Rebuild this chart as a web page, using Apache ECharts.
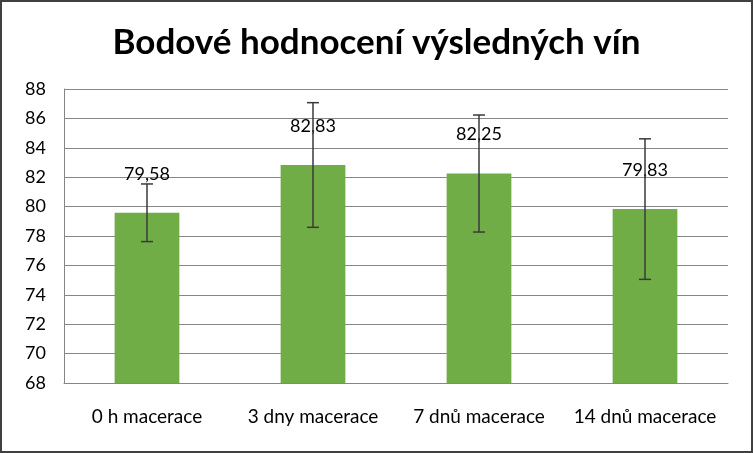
<!DOCTYPE html>
<html lang="cs">
<head>
    <meta charset="UTF-8">
    <title>Bodové hodnocení výsledných vín</title>
    <script src="https://cdn.jsdelivr.net/npm/echarts@6/dist/echarts.min.js"></script>
    <style>
        html, body { margin: 0; padding: 0; background: #fff; }
        #chart { width: 753px; height: 453px; box-sizing: border-box; border: 2px solid #404040; }
    </style>
</head>
<body>
<div id="chart"></div>
<script>
    // data
    const categories = ['0 h macerace', '3 dny macerace', '7 dnů macerace', '14 dnů macerace'];
    const scores = [79.58, 82.83, 82.25, 79.83];
    const errors = [1.96, 4.24, 3.98, 4.78];
    const yTicks = { min: 68, max: 88, step: 2 };

    const errData = scores.map(function (v, i) {
        return [i, v - errors[i], v + errors[i]];
    });

    const chart = echarts.init(document.getElementById('chart'));

    chart.setOption({
        animation: false,
        textStyle: { fontFamily: 'Lato' },
        title: {
            text: 'Bodové hodnocení výsledných vín',
            left: 'center',
            top: 18,
            textStyle: { fontFamily: 'Lato', fontWeight: 'bold', fontSize: 35, color: '#000' }
        },
        grid: { left: 62, right: 23, top: 87, bottom: 68 },
        xAxis: {
            type: 'category',
            data: categories,
            axisLine: { lineStyle: { color: '#868686' } },
            axisTick: { show: false },
            axisLabel: { color: '#000', fontSize: 19, margin: 24, interval: 0 }
        },
        yAxis: {
            type: 'value',
            min: yTicks.min,
            max: yTicks.max,
            interval: yTicks.step,
            axisLine: { show: true, lineStyle: { color: '#868686' } },
            axisTick: { show: false },
            axisLabel: { color: '#000', fontSize: 18, margin: 18 },
            splitLine: { lineStyle: { color: '#868686' } }
        },
        series: [
            {
                type: 'bar',
                data: scores,
                barWidth: '39%',
                itemStyle: { color: '#70AD47' },
                label: {
                    show: true,
                    position: 'top',
                    distance: 30,
                    color: '#000',
                    fontSize: 18,
                    formatter: function (p) { return p.value.toFixed(2).replace('.', ','); }
                },
                z: 2
            },
            {
                type: 'custom',
                data: errData,
                z: 3,
                renderItem: function (params, api) {
                    const x = api.value(0);
                    const lo = api.coord([x, api.value(1)]);
                    const hi = api.coord([x, api.value(2)]);
                    const cap = 6;
                    const style = { stroke: '#3a3a3a', lineWidth: 1.5 };
                    return {
                        type: 'group',
                        children: [
                            { type: 'line', shape: { x1: hi[0], y1: hi[1], x2: lo[0], y2: lo[1] }, style: style },
                            { type: 'line', shape: { x1: hi[0] - cap, y1: hi[1], x2: hi[0] + cap, y2: hi[1] }, style: style },
                            { type: 'line', shape: { x1: lo[0] - cap, y1: lo[1], x2: lo[0] + cap, y2: lo[1] }, style: style }
                        ]
                    };
                }
            }
        ]
    });
</script>
</body>
</html>
